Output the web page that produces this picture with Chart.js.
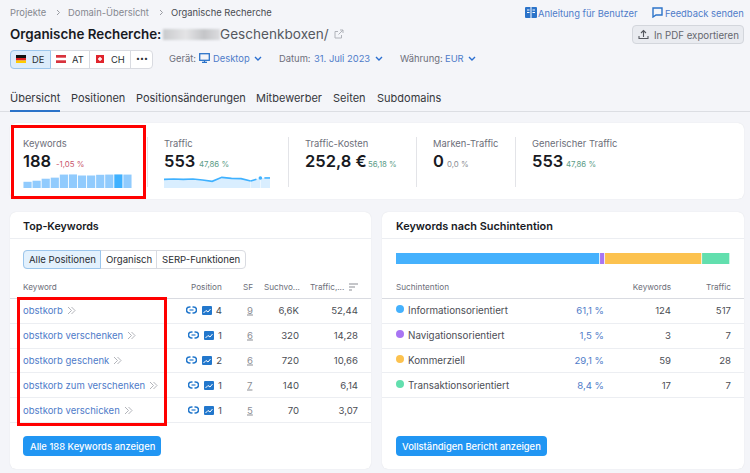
<!DOCTYPE html>
<html lang="de">
<head>
<meta charset="utf-8">
<title>Organische Recherche</title>
<script src="https://cdn.jsdelivr.net/npm/chart.js@4"></script>
<style>
html, body { margin: 0; padding: 0; }
body { width: 750px; height: 473px; overflow: hidden; background: #f4f5f9; font-family: Inter, "Noto Sans", sans-serif; color: #2b2e33; position: relative; }
.t { position: absolute; white-space: nowrap; transform: translateY(-50%); font-size: 9.4px; }
.card { position: absolute; background: #fff; border-radius: 6px; box-shadow: 0 0 1px #d5d7dc; }
.red { position: absolute; border: 3px solid #f00; box-sizing: border-box; z-index: 5; }
.box { position: absolute; box-sizing: border-box; }
.chart { position: absolute; }
.link { color: #4f7cc9; }
.grey { color: #6c6e79; }
.head { font-size: 8.2px; color: #6c6e79; }
.bold { font-weight: 600; color: #181a1f; }
.num { font-size: 16.5px; font-weight: 600; color: #181a1f; }
.up { font-size: 7.8px; color: #5c9c87; }
svg { position: absolute; }
svg.inl { position: static; vertical-align: -1px; margin-left: 4px; }
</style>
</head>
<body>
<script>
const keywords = ["obstkorb", "obstkorb verschenken", "obstkorb geschenk", "obstkorb zum verschenken", "obstkorb verschicken"];
const positions = [4, 1, 2, 1, 1];
const serpFeatures = [9, 6, 6, 7, 5];
const volumes = ["6,6K", "320", "720", "140", "70"];
const trafficShares = ["52,44", "14,28", "10,66", "6,14", "3,07"];

const intents = ["Informationsorientiert", "Navigationsorientiert", "Kommerziell", "Transaktionsorientiert"];
const intentShares = [61.1, 1.5, 29.1, 8.4];
const intentKeywords = [124, 3, 59, 17];
const intentTraffic = [517, 7, 28, 7];
const intentColors = ["#45b1fd", "#a875f3", "#fcc24f", "#62dfae"];

const keywordTrend = [87, 102, 130, 145, 188, 190, 175, 175, 185, 188, 190, 188];
const trafficTrend = [477, 495, 477, 495, 440, 367, 586, 532, 514, 385, 553, 553];

const tabs = [["Übersicht", 10], ["Positionen", 71], ["Positionsänderungen", 136], ["Mitbewerber", 256], ["Seiten", 333], ["Subdomains", 377]];

function add(html) {
    document.body.insertAdjacentHTML("beforeend", html);
}
function text(x, y, str, cls = "", style = "") {
    add(`<div class="t ${cls}" style="left:${x}px;top:${y}px;${style}">${str}</div>`);
}
function textRight(x, y, str, cls = "", style = "") {
    add(`<div class="t ${cls}" style="right:${750 - x}px;top:${y}px;${style}">${str}</div>`);
}
function box(x, y, w, h, style) {
    add(`<div class="box" style="left:${x}px;top:${y}px;width:${w}px;height:${h}px;${style}"></div>`);
}
function icon(x, y, w, h, body) {
    add(`<svg style="left:${x}px;top:${y}px" width="${w}" height="${h}" viewBox="0 0 ${w} ${h}">${body}</svg>`);
}
function chevron(x, y) {
    icon(x, y, 8, 5, '<path d="M1 1l3 3 3-3" fill="none" stroke="#2b6fd0" stroke-width="1.4"/>');
}
function breadcrumbArrow(x) {
    icon(x, 9, 5, 7, '<path d="M1 1l2.5 2.5L1 6" fill="none" stroke="#9a9ca3" stroke-width="1"/>');
}
function linkIcon(x, y) {
    icon(x, y, 11, 8, '<path d="M4.5 1H3.5a2.9 2.9 0 0 0 0 6h1M6.5 1h1a2.9 2.9 0 0 1 0 6h-1" fill="none" stroke="#2277cc" stroke-width="1.5"/><path d="M3.5 4h4" stroke="#2277cc" stroke-width="1.2"/>');
}
function imageIcon(x, y) {
    icon(x, y, 10, 9, '<rect width="10" height="9" rx="1" fill="#2277cc"/><path d="M1.5 7l2.5-2.5 2 1.5 2.5-3" fill="none" stroke="#fff" stroke-width="1"/>');
}
const doubleChevron = '<svg class="inl" width="9" height="8" viewBox="0 0 9 8"><path d="M1 .5l3.5 3.5L1 7.5M4.5 .5L8 4 4.5 7.5" fill="none" stroke="#a9abb2" stroke-width=".9"/></svg>';

// header
text(10, 12, "Projekte", "", "color:#85878f");
breadcrumbArrow(56);
text(68, 12, "Domain-Übersicht", "", "color:#85878f");
breadcrumbArrow(159);
text(171, 12, "Organische Recherche", "", "color:#4a4c52");
text(10, 34, "Organische Recherche:", "bold", "font-size:13.4px");
add('<div class="box" style="left:163px;top:29px;width:57px;height:11px;background:linear-gradient(90deg,#c9cacd,#e4e4e6 40%,#c4c5c8 72%,#dcdcdf);filter:blur(1px)"></div>');
text(220, 34, "Geschenkboxen/", "", "font-size:13.6px;color:#55585f");
icon(334, 29, 10, 10, '<path d="M6 1h3v3M9 1L4.5 5.5M7.5 6v3H1V2.5h3" fill="none" stroke="#b0b3ba" stroke-width="1"/>');

icon(525, 7, 12, 11, '<rect width="12" height="11" rx="1" fill="#2b73c9"/><path d="M6 0v11" stroke="#fff"/><path d="M2 3h2.5M2 5.5h2.5M7.5 3H10M7.5 5.5H10" stroke="#fff"/>');
text(538, 13, "Anleitung für Benutzer", "link");
icon(652, 7, 11, 11, '<path d="M1 1h9v7H4L1 10z" fill="none" stroke="#2b73c9" stroke-width="1.4"/>');
text(665, 13, "Feedback senden", "link");
box(632, 25, 112, 19, "background:#e9ebf0;border:1px solid #d3d6dc;border-radius:4px");
icon(638, 29, 11, 11, '<path d="M5.5 8V2M3 4l2.5-2.5L8 4M1 7v2.5h9V7" fill="none" stroke="#55585f" stroke-width="1.1"/>');
text(654, 34.5, "In PDF exportieren", "", "color:#65676e;font-size:9.7px");

// database selector
box(10, 50, 143, 19, "background:#fff;border:1px solid #d9dbe1;border-radius:4px");
box(10, 50, 41, 19, "background:#dcecfb;border:1px solid #9cc6ec;border-radius:4px 0 0 4px");
box(89, 50, 1, 19, "background:#d9dbe1");
box(130, 50, 1, 19, "background:#d9dbe1");
icon(16, 55, 10, 8, '<rect width="10" height="3" fill="#111"/><rect y="3" width="10" height="2.5" fill="#d22"/><rect y="5.5" width="10" height="2.5" fill="#fc0"/>');
text(32, 59, "DE");
icon(56, 55, 10, 8, '<rect width="10" height="8" fill="#d8333d"/><rect y="2.7" width="10" height="2.6" fill="#fff"/>');
text(72, 59, "AT");
icon(96, 55, 8, 8, '<rect width="8" height="8" fill="#e0242c"/><path d="M4 2v4M2 4h4" stroke="#fff" stroke-width="1.4"/>');
text(111, 59, "CH");
text(136, 58, "•••", "", "font-size:7px");
text(169, 58, "Gerät:", "grey");
icon(199, 53, 11, 10, '<rect x="0.7" y="0.7" width="9.6" height="6.6" fill="none" stroke="#2b73c9" stroke-width="1.3"/><path d="M3 9.4h5M5.5 7.5v2" stroke="#2b73c9" stroke-width="1.2"/>');
text(213, 58, "Desktop", "link");
chevron(254, 56);
text(279, 58, "Datum:", "grey");
text(314, 58, "31. Juli 2023", "link");
chevron(375, 56);
text(400, 58, "Währung:", "grey");
text(445, 58, "EUR", "link");
chevron(468, 56);

// tabs
tabs.forEach(([label, x]) => text(x, 98, label, "", "font-size:11px;color:#34373c"));
box(0, 111, 750, 1, "background:#dcdee3");
box(10, 110, 50, 2, "background:#2b73c9");

// kpi strip
add('<div class="card" style="left:10px;top:123px;width:734px;height:76px"></div>');
[147, 288, 416, 515].forEach(x => box(x, 137, 1, 50, "background:#e3e4e8"));
text(23, 143, "Keywords", "grey");
text(23, 161, "188", "num");
text(56, 164, "-1,05 %", "up", "color:#c9566c");
text(164, 143, "Traffic", "grey");
text(164, 161, "553", "num");
text(199, 164, "47,86 %", "up");
text(305, 143, "Traffic-Kosten", "grey");
text(305, 161, "252,8 €", "num");
text(368, 164, "56,18 %", "up");
text(433, 143, "Marken-Traffic", "grey");
text(433, 161, "0", "num");
text(447, 164, "0,0 %", "up", "color:#8b8d94");
text(532, 143, "Generischer Traffic", "grey");
text(532, 161, "553", "num");
text(566, 164, "47,86 %", "up");

add('<div class="chart" style="left:23px;top:173px;width:109px;height:15px"><canvas id="keywordChart"></canvas></div>');
add('<div class="chart" style="left:164px;top:174px;width:106px;height:14px"><canvas id="trafficChart"></canvas></div>');

// top keywords card
add('<div class="card" style="left:10px;top:212px;width:361px;height:257px"></div>');
text(23, 226, "Top-Keywords", "bold", "font-size:10.7px");
box(10, 238, 361, 1, "background:#eceef2");
box(23, 250, 223, 19, "background:#fff;border:1px solid #d9dbe1;border-radius:4px");
box(23, 250, 78, 19, "background:#e3f1fd;border:1px solid #9cc6ec;border-radius:4px 0 0 4px");
box(156, 250, 1, 19, "background:#d9dbe1");
text(29, 259, "Alle Positionen", "", "font-size:9.6px");
text(106, 259, "Organisch", "", "font-size:9.6px");
text(162, 259, "SERP-Funktionen", "", "font-size:9.6px");
text(23, 287, "Keyword", "head");
text(191, 287, "Position", "head");
text(243, 287, "SF", "head");
text(264, 287, "Suchvo...", "head");
text(310, 287, "Traffic,...", "head");
icon(349, 283, 9, 8, '<path d="M0 1h9M0 4h6M0 7h3" stroke="#8b8d94" stroke-width="1"/>');
box(10, 298, 361, 1, "background:#d9dbe1");

const rowCenters = [310, 335, 360, 385, 410];
const rowLines = [323, 348, 372, 397, 422];
keywords.forEach((kw, i) => {
    const y = rowCenters[i];
    text(23, y, kw + doubleChevron, "link", "font-size:9.5px");
    const shift = positions[i] === 1 ? 2 : 0;
    linkIcon(186 + shift, y - 4);
    imageIcon(202 + shift, y - 4.5);
    textRight(222, y, positions[i], "", "color:#4c4e55;font-size:9.6px");
    text(247, y, serpFeatures[i], "", "color:#8b8d94;text-decoration:underline;font-size:9.6px");
    textRight(299, y, volumes[i], "", "color:#4c4e55;font-size:9.6px");
    textRight(358, y, trafficShares[i], "", "color:#4c4e55;font-size:9.6px");
    box(10, rowLines[i], 361, 1, "background:#eceef2");
});
box(23, 436, 138, 20, "background:#2196f3;border-radius:4px");
text(30, 446, "Alle 188 Keywords anzeigen", "", "color:#fff;font-weight:500;font-size:9.4px");

// search intent card
add('<div class="card" style="left:382px;top:212px;width:362px;height:257px"></div>');
text(396, 226, "Keywords nach Suchintention", "bold", "font-size:10.9px");
box(382, 238, 362, 1, "background:#eceef2");
add('<div class="chart" style="left:396px;top:253px;width:334px;height:11px"><canvas id="intentChart"></canvas></div>');
text(396, 287, "Suchintention", "head");
textRight(671, 287, "Keywords", "head");
textRight(731, 287, "Traffic", "head");
box(382, 298, 362, 1, "background:#d9dbe1");
intents.forEach((name, i) => {
    const y = rowCenters[i];
    box(396, y - 5, 8, 8, `background:${intentColors[i]};border-radius:50%`);
    text(408, y, name, "", "color:#4c4e55;font-size:9.8px");
    textRight(604, y, String(intentShares[i]).replace(".", ",") + " %", "link", "font-size:9.6px");
    textRight(671, y, intentKeywords[i], "", "color:#4c4e55;font-size:9.6px");
    textRight(731, y, intentTraffic[i], "", "color:#4c4e55;font-size:9.6px");
    box(382, rowLines[i], 362, 1, "background:#eceef2");
});
box(396, 436, 151, 20, "background:#2196f3;border-radius:4px");
text(402, 446, "Vollständigen Bericht anzeigen", "", "color:#fff;font-weight:500;font-size:9.4px");

// red highlight frames
add('<div class="red" style="left:11px;top:125px;width:135px;height:74px"></div>');
add('<div class="red" style="left:17px;top:297px;width:150px;height:129px"></div>');

const quiet = {
    responsive: true,
    maintainAspectRatio: false,
    animation: false,
    events: [],
    layout: { padding: 0 },
    plugins: { legend: { display: false }, tooltip: { enabled: false } }
};

new Chart("keywordChart", {
    type: "bar",
    data: {
        labels: keywordTrend.map((_, i) => i),
        datasets: [{
            data: keywordTrend,
            backgroundColor: keywordTrend.map((_, i) => i === 10 ? "#3fb1ff" : "#91cbfd"),
            barPercentage: 0.9,
            categoryPercentage: 1
        }]
    },
    options: {
        ...quiet,
        scales: {
            x: { display: false },
            y: { display: false, min: 0, max: 210 }
        }
    }
});

new Chart("trafficChart", {
    type: "line",
    data: {
        labels: trafficTrend.map((_, i) => i),
        datasets: [{
            data: trafficTrend,
            borderColor: "#3fb1ff",
            borderWidth: 1.6,
            backgroundColor: "#d9eeff",
            fill: "origin",
            tension: 0,
            pointRadius: trafficTrend.map((_, i) => i === 10 ? 1.8 : 0),
            pointBackgroundColor: "#3fb1ff",
            pointBorderWidth: 0,
            segment: {
                borderDash: ctx => ctx.p0DataIndex === 9 ? [6, 20] : ctx.p0DataIndex === 10 ? [0, 4, 6, 0] : undefined
            }
        }]
    },
    options: {
        ...quiet,
        scales: {
            x: { display: false, offset: false },
            y: { display: false, min: 0, max: 770 }
        }
    }
});

new Chart("intentChart", {
    type: "bar",
    data: {
        labels: ["Suchintention"],
        datasets: intents.map((name, i) => ({
            label: name,
            data: [intentShares[i]],
            backgroundColor: intentColors[i],
            borderColor: "#fff",
            borderWidth: { right: 1 },
            borderSkipped: false,
            barPercentage: 1,
            categoryPercentage: 1
        }))
    },
    options: {
        ...quiet,
        indexAxis: "y",
        scales: {
            x: { display: false, stacked: true, min: 0, max: 100.1 },
            y: { display: false, stacked: true }
        }
    }
});
</script>
</body>
</html>
